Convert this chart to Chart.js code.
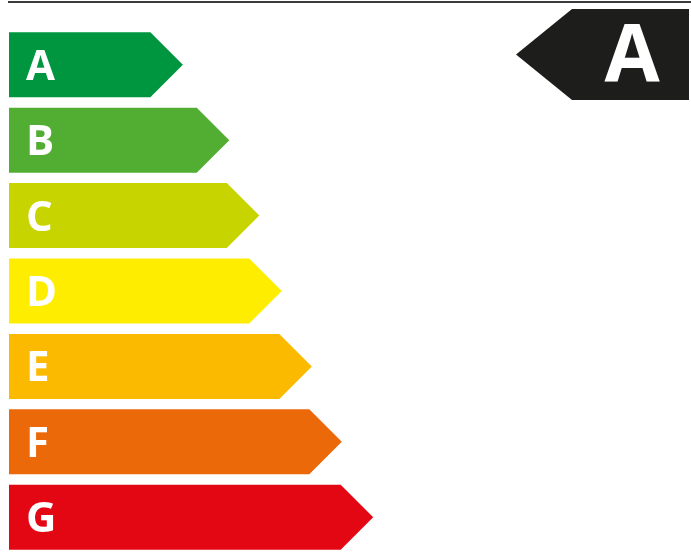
<!DOCTYPE html>
<html>
<head>
<meta charset="utf-8">
<script src="https://cdn.jsdelivr.net/npm/chart.js@4/dist/chart.umd.min.js"></script>
<style>
  html, body { margin: 0; padding: 0; background: #ffffff; overflow: hidden; }
  #wrap { width: 691px; height: 555px; position: relative; }
</style>
</head>
<body>
<div id="wrap"><canvas id="energyLabelChart"></canvas></div>
<script>
// energy classes, top to bottom
const classLabels = ['A', 'B', 'C', 'D', 'E', 'F', 'G'];
// arrow length of each class (0-100 of the label width)
const classLengths = [25.5, 32.3, 36.7, 40.0, 44.4, 48.8, 53.4];
const classColors = ['#009640', '#52ae32', '#c8d400', '#ffed00', '#fbba00', '#eb6909', '#e30613'];
// the class this product gets
const rating = 'A';

const fontName = 'Open Sans';

// draws the bars as arrows, the class letters, the top rule and the rating arrow
const arrowBars = {
    id: 'arrowBars',
    beforeDatasetsDraw(chart) {
        const ctx = chart.ctx;
        const meta = chart.getDatasetMeta(0);

        // top rule
        ctx.save();
        ctx.strokeStyle = '#3a3a3a';
        ctx.lineWidth = 2;
        ctx.beginPath();
        ctx.moveTo(chart.chartArea.left - 1, 2);
        ctx.lineTo(chart.width, 2);
        ctx.stroke();

        meta.data.forEach((bar, i) => {
            const h = bar.height;
            const top = bar.y - h / 2;
            const bottom = bar.y + h / 2;
            const point = h / 2;
            ctx.fillStyle = classColors[i];
            ctx.beginPath();
            ctx.moveTo(bar.base, top);
            ctx.lineTo(bar.x - point, top);
            ctx.lineTo(bar.x, bar.y);
            ctx.lineTo(bar.x - point, bottom);
            ctx.lineTo(bar.base, bottom);
            ctx.closePath();
            ctx.fill();

            ctx.fillStyle = '#ffffff';
            ctx.font = 'bold 42px "' + fontName + '"';
            ctx.textAlign = 'left';
            ctx.textBaseline = 'alphabetic';
            ctx.fillText(classLabels[i], bar.base + 17, bar.y + 15);
        });

        // rating indicator, top right
        const right = chart.width - 2;
        const rTop = 9, rBottom = 100, rMid = (rTop + rBottom) / 2;
        const rLeft = 572, rTip = 516;
        ctx.fillStyle = '#1d1d1b';
        ctx.beginPath();
        ctx.moveTo(right, rTop);
        ctx.lineTo(rLeft, rTop);
        ctx.lineTo(rTip, rMid);
        ctx.lineTo(rLeft, rBottom);
        ctx.lineTo(right, rBottom);
        ctx.closePath();
        ctx.fill();

        ctx.fillStyle = '#ffffff';
        ctx.font = 'bold 80px "' + fontName + '"';
        ctx.textAlign = 'center';
        ctx.fillText(rating, 632, 82);
        ctx.restore();
        return false;
    }
};

new Chart(document.getElementById('energyLabelChart').getContext('2d'), {
    type: 'bar',
    data: {
        labels: classLabels,
        datasets: [{
            data: classLengths,
            backgroundColor: classColors,
            borderWidth: 0,
            barPercentage: 0.862,
            categoryPercentage: 1
        }]
    },
    options: {
        indexAxis: 'y',
        responsive: true,
        maintainAspectRatio: false,
        animation: false,
        layout: { padding: { left: 9, right: 0, top: 27, bottom: 0 } },
        plugins: {
            legend: { display: false },
            tooltip: { enabled: false }
        },
        scales: {
            x: { display: false, min: 0, max: 100 },
            y: { display: false }
        }
    },
    plugins: [arrowBars]
});
</script>
</body>
</html>
